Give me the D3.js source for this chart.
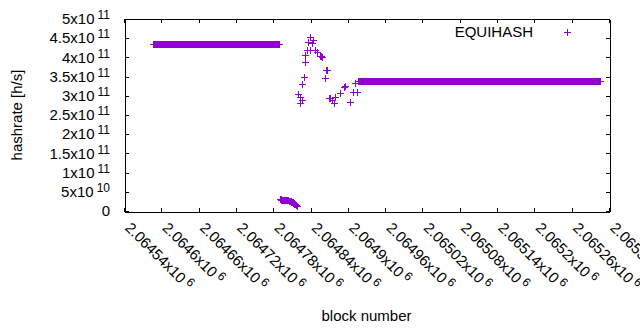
<!DOCTYPE html>
<html>
<head>
<meta charset="utf-8">
<script src="https://cdn.jsdelivr.net/npm/d3@7/dist/d3.min.js"></script>
<style>
  body { margin: 0; background: #fff; }
  text { font-family: "Liberation Sans", Arial, sans-serif; fill: #000; }
</style>
</head>
<body>
<svg width="640" height="330"></svg>
<script>
// first flat stretch: one point per block, all at the same hashrate
const highRunStart = 2064586;
const highRunEnd = 2064790;
const highRunValue = 4.34e11;

// the small drop right after it, one value per block starting here
const lowStart = 2064791;
const lowValues = [
    3.0e10, 3.0e10, 2.95e10, 2.97e10, 2.93e10, 2.95e10, 2.9e10, 2.92e10, 2.88e10, 2.9e10,
    2.85e10, 2.83e10, 2.8e10, 2.78e10, 2.7e10, 2.62e10, 2.55e10, 2.48e10, 2.4e10, 2.32e10,
    2.22e10, 2.12e10, 2.0e10, 1.9e10, 1.78e10, 1.65e10, 1.52e10, 1.4e10, 1.28e10
];

// scattered part
const scatterBlocks = [
    2064820, 2064823, 2064823, 2064826, 2064827, 2064829, 2064831, 2064831, 2064834, 2064836,
    2064839, 2064839, 2064842, 2064844, 2064847, 2064850, 2064855, 2064857, 2064858, 2064863,
    2064865, 2064866, 2064870, 2064871, 2064874, 2064877, 2064879, 2064887, 2064894, 2064895,
    2064903, 2064909, 2064911, 2064914
];
const scatterValues = [
    3.05e11, 2.98e11, 2.80e11, 2.89e11, 3.30e11, 3.50e11, 3.87e11, 4.06e11, 4.19e11, 4.41e11,
    4.54e11, 4.19e11, 4.37e11, 4.45e11, 4.19e11, 4.15e11, 4.04e11, 4.03e11, 4.02e11, 3.46e11,
    3.66e11, 3.67e11, 2.93e11, 2.95e11, 2.89e11, 2.80e11, 2.98e11, 3.06e11, 3.23e11, 3.25e11,
    2.85e11, 3.11e11, 3.33e11, 3.11e11
];

// second flat stretch
const midRunStart = 2064917;
const midRunEnd = 2065306;
const midRunValue = 3.395e11;

const xTicks = [2064540, 2064600, 2064660, 2064720, 2064780, 2064840, 2064900,
    2064960, 2065020, 2065080, 2065140, 2065200, 2065260, 2065320];
const xTickLabels = ['2.06454', '2.0646', '2.06466', '2.06472', '2.06478', '2.06484', '2.0649',
    '2.06496', '2.06502', '2.06508', '2.06514', '2.0652', '2.06526', '2.06532'];

const yTicks = [0, 5e10, 1e11, 1.5e11, 2e11, 2.5e11, 3e11, 3.5e11, 4e11, 4.5e11, 5e11];
const yTickLabels = ['0', '5x10', '1x10', '1.5x10', '2x10', '2.5x10', '3x10', '3.5x10', '4x10', '4.5x10', '5x10'];
const yTickExps = ['', '10', '11', '11', '11', '11', '11', '11', '11', '11', '11'];

const seriesName = 'EQUIHASH';
const color = '#9400d3';

const svg = d3.select('svg');
const plotLeft = 124, plotRight = 609, plotTop = 19, plotBottom = 211;

const x = d3.scaleLinear().domain([2064540, 2065320]).range([plotLeft, plotRight]);
const y = d3.scaleLinear().domain([0, 5e11]).range([plotBottom, plotTop]);

// build points
const points = [];
d3.range(highRunStart, highRunEnd + 1).forEach(b => points.push({ b: b, v: highRunValue }));
lowValues.forEach((v, i) => points.push({ b: lowStart + i, v: v }));
scatterBlocks.forEach((b, i) => points.push({ b: b, v: scatterValues[i] }));
d3.range(midRunStart, midRunEnd + 1).forEach(b => points.push({ b: b, v: midRunValue }));

const plus = (cx, cy) => {
    const px = Math.round(cx) + 0.5, py = Math.round(cy) + 0.5;
    return `M${px - 3.5},${py}H${px + 3.5}M${px},${py - 3.5}V${py + 3.5}`;
};

// axes (ticks point inward on all four sides)
svg.append('g')
    .attr('transform', `translate(0,${plotBottom + 0.5})`)
    .call(d3.axisBottom(x).tickValues(xTicks).tickSizeInner(-4).tickSizeOuter(0).tickFormat(''));
svg.append('g')
    .attr('transform', `translate(0,${plotTop - 0.5})`)
    .call(d3.axisTop(x).tickValues(xTicks).tickSizeInner(-4).tickSizeOuter(0).tickFormat(''));
svg.append('g')
    .attr('transform', `translate(${plotLeft + 0.5},0)`)
    .call(d3.axisLeft(y).tickValues(yTicks).tickSizeInner(-4).tickSizeOuter(0).tickFormat(''));
svg.append('g')
    .attr('transform', `translate(${plotRight + 0.5},0)`)
    .call(d3.axisRight(y).tickValues(yTicks).tickSizeInner(-4).tickSizeOuter(0).tickFormat(''));
svg.selectAll('.domain').attr('stroke', '#000').attr('shape-rendering', 'crispEdges');
svg.selectAll('.tick line').attr('stroke', '#000').attr('shape-rendering', 'crispEdges');

// y labels
const yl = svg.append('g').selectAll('text')
    .data(yTicks)
    .enter()
    .append('text')
    .attr('x', 110)
    .attr('y', d => y(d))
    .attr('dy', '0.35em')
    .attr('text-anchor', 'end')
    .style('font-size', '15px');
yl.append('tspan').text((d, i) => yTickLabels[i]);
yl.append('tspan')
    .attr('dx', (d, i) => yTickExps[i] ? 3 : 0)
    .attr('dy', -5)
    .style('font-size', '12px')
    .text((d, i) => yTickExps[i]);

// x labels, rotated
const xl = svg.append('g').selectAll('text')
    .data(xTicks)
    .enter()
    .append('text')
    .attr('transform', d => `translate(${x(d) + 4},225) rotate(45)`)
    .attr('dy', '0.35em')
    .style('font-size', '15px');
xl.append('tspan').text((d, i) => xTickLabels[i] + 'x10');
xl.append('tspan')
    .attr('dx', 3)
    .attr('dy', -5)
    .style('font-size', '12px')
    .text('6');

// axis titles
svg.append('text')
    .attr('transform', `translate(17,${(plotTop + plotBottom) / 2}) rotate(-90)`)
    .attr('dy', '0.35em')
    .attr('text-anchor', 'middle')
    .style('font-size', '15px')
    .text('hashrate [h/s]');
svg.append('text')
    .attr('x', (plotLeft + plotRight) / 2)
    .attr('y', 316)
    .attr('dy', '0.35em')
    .attr('text-anchor', 'middle')
    .style('font-size', '15px')
    .text('block number');

// points
svg.append('g').selectAll('path')
    .data(points)
    .enter()
    .append('path')
    .attr('d', d => plus(x(d.b), y(d.v)))
    .attr('fill', 'none')
    .attr('stroke', color)
    .attr('stroke-width', 1)
    .attr('shape-rendering', 'crispEdges');

// legend
svg.append('text')
    .attr('x', 533)
    .attr('y', 32)
    .attr('dy', '0.35em')
    .attr('text-anchor', 'end')
    .style('font-size', '15px')
    .text(seriesName);
svg.append('path')
    .attr('d', plus(567, 32))
    .attr('fill', 'none')
    .attr('stroke', color)
    .attr('shape-rendering', 'crispEdges');
</script>
</body>
</html>
